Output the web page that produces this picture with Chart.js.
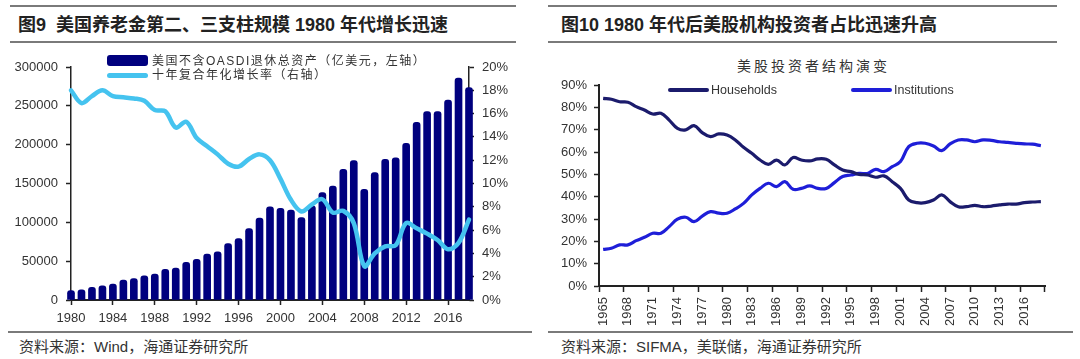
<!DOCTYPE html>
<html><head><meta charset="utf-8">
<script src="https://cdn.jsdelivr.net/npm/chart.js@4.4.1/dist/chart.umd.min.js"></script>
<style>
html,body{margin:0;padding:0;background:#fff;width:1080px;height:359px;overflow:hidden;position:relative;font-family:"Noto Sans CJK SC",sans-serif;}
.hl{position:absolute;background:#7a7a7a;}
.title{position:absolute;font-weight:bold;font-size:18px;color:#222;line-height:22px;white-space:pre;font-family:"Liberation Sans","Noto Sans CJK SC",sans-serif;}
.src{position:absolute;font-size:15px;color:#333;line-height:18px;white-space:pre;font-family:"Liberation Sans","Noto Sans CJK SC",sans-serif;}
.sub{position:absolute;font-size:14px;color:#333;line-height:16px;white-space:pre;letter-spacing:3px;}
canvas{position:absolute;}
.lg{position:absolute;font-size:12px;color:#333;line-height:14px;white-space:pre;letter-spacing:1.5px;font-family:"Liberation Sans","Noto Sans CJK SC",sans-serif;}
.lg2{position:absolute;font-size:12.5px;color:#333;line-height:14px;white-space:pre;font-family:"Liberation Sans",Arial,sans-serif;}
.sym{position:absolute;}
</style></head>
<body>
<div class="hl" style="left:10px;top:5px;width:506px;height:2px"></div>
<div class="hl" style="left:10px;top:41px;width:506px;height:1.5px"></div>
<div class="hl" style="left:8px;top:331px;width:524px;height:1.5px"></div>
<div class="title" style="left:18px;top:14px">图9  美国养老金第二、三支柱规模 1980 年代增长迅速</div>
<div class="src" style="left:19px;top:338px">资料来源：Wind，海通证券研究所</div>

<div class="hl" style="left:548px;top:5px;width:509px;height:2px"></div>
<div class="hl" style="left:548px;top:41px;width:509px;height:1.5px"></div>
<div class="hl" style="left:548px;top:331px;width:525px;height:1.5px"></div>
<div class="title" style="left:561px;top:14px">图10 1980 年代后美股机构投资者占比迅速升高</div>
<div class="src" style="left:561px;top:338px">资料来源：SIFMA，美联储，海通证券研究所</div>
<div class="sub" style="left:737px;top:57px">美股投资者结构演变</div>

<canvas id="c1" width="540" height="300" style="left:0;top:40px"></canvas>
<canvas id="c2" width="540" height="300" style="left:540px;top:40px"></canvas>

<div class="sym" style="left:107px;top:55px;width:41px;height:11px;background:#00007e;border-radius:3px"></div>
<div class="lg" style="left:152px;top:54px">美国不含OASDI退休总资产（亿美元，左轴）</div>
<div class="sym" style="left:107px;top:73px;width:41px;height:5px;background:#45c3ef;border-radius:3px"></div>
<div class="lg" style="left:152px;top:68px">十年复合年化增长率（右轴）</div>

<div class="sym" style="left:668px;top:88px;width:41px;height:4px;background:#1b1b6c;border-radius:2px"></div>
<div class="lg2" style="left:711px;top:83px">Households</div>
<div class="sym" style="left:851px;top:88px;width:41px;height:4px;background:#1e1ed8;border-radius:2px"></div>
<div class="lg2" style="left:894px;top:83px">Institutions</div>

<script>
const years1 = ['1980','1981','1982','1983','1984','1985','1986','1987','1988','1989','1990','1991','1992','1993','1994','1995','1996','1997','1998','1999','2000','2001','2002','2003','2004','2005','2006','2007','2008','2009','2010','2011','2012','2013','2014','2015','2016','2017','2018'];
const assets = [12000,13000,16300,18400,20600,25700,27500,31000,33500,39500,41200,48500,52400,59000,62000,72500,79200,92000,105500,120100,118000,115900,106000,121400,138200,146800,168300,179400,142500,163900,181100,183000,201700,228800,242500,242500,257500,285800,273400];
const growth = [18.0,16.9,17.5,18.0,17.5,17.4,17.3,17.1,16.3,16.2,14.8,15.3,13.9,13.2,12.5,11.7,11.45,12.1,12.5,12.0,10.4,8.6,7.6,8.2,8.65,7.5,7.65,6.6,2.9,4.0,4.6,4.7,6.6,6.15,5.7,5.15,4.35,4.9,6.9];
const leftTicks = [0,50000,100000,150000,200000,250000,300000];
const rightTicks = [0,2,4,6,8,10,12,14,16,18,20];

const years2 = ['1965','1966','1967','1968','1969','1970','1971','1972','1973','1974','1975','1976','1977','1978','1979','1980','1981','1982','1983','1984','1985','1986','1987','1988','1989','1990','1991','1992','1993','1994','1995','1996','1997','1998','1999','2000','2001','2002','2003','2004','2005','2006','2007','2008','2009','2010','2011','2012','2013','2014','2015','2016','2017','2018'];
const households = [84.0,83.6,82.5,82.3,80.3,78.8,77.0,77.3,74.3,70.6,69.9,71.8,68.7,66.9,68.1,67.6,65.4,62.1,59.4,56.4,54.5,56.4,54.2,57.5,56.4,56.0,56.9,56.7,54.2,51.9,51.2,50.0,49.7,48.7,49.3,46.7,43.7,38.5,37.3,37.3,38.5,40.8,37.8,35.5,35.5,36.1,35.5,35.8,36.3,36.7,36.7,37.3,37.6,37.8];
const institutions = [16.4,16.9,18.4,18.4,20.3,21.8,23.6,23.6,26.6,29.9,30.8,28.8,31.3,33.3,32.6,32.6,34.5,37.0,40.8,43.7,46.0,44.5,46.7,43.3,43.7,44.8,43.7,43.7,46.3,49.0,49.7,50.4,50.4,52.2,51.2,53.4,55.7,62.4,63.9,63.9,62.7,60.6,63.6,65.4,65.4,64.6,65.4,65.2,64.6,64.3,63.9,63.6,63.5,62.8];
const pctTicks = [0,10,20,30,40,50,60,70,80,90];

const tickFont = {family:'"Liberation Sans", Arial, sans-serif', size:13};
const tickColor = '#333';
const axisColor = '#222';

new Chart(document.getElementById('c1'), {
  data: {
    labels: years1,
    datasets: [
      {type:'line', data: growth, yAxisID:'y1', borderColor:'#45c3ef', borderWidth:4.5, pointRadius:0,
       tension:0.35, order:0, clip:false, borderCapStyle:'round', borderJoinStyle:'round'},
      {type:'bar', data: assets, yAxisID:'y', backgroundColor:'#00007e', barThickness:7,
       borderRadius:{topLeft:3,topRight:3,bottomLeft:0,bottomRight:0}, borderSkipped:'start', order:1, clip:false}
    ]
  },
  options: {
    responsive:false, animation:false,
    layout:{padding:{top:27,left:0,right:0,bottom:0}},
    plugins:{legend:{display:false}, tooltip:{enabled:false}},
    scales:{
      x:{type:'category', offset:false,
         grid:{offset:false, drawOnChartArea:false, tickLength:5,
               tickColor: c => (c.type==='tick' && c.index % 4 !== 0) ? 'rgba(0,0,0,0)' : axisColor, tickWidth:1.5},
         border:{display:true, color:axisColor, width:2},
         ticks:{autoSkip:false, maxRotation:0, minRotation:0, padding:6, color:tickColor, font:tickFont,
                callback:(v,i) => i % 4 === 0 ? years1[i] : ''},
         afterFit: s => { s.height = 40; }},
      y:{type:'linear', position:'left', min:0, max:300000,
         afterBuildTicks: s => { s.ticks = leftTicks.map(v => ({value:v})); },
         grid:{drawOnChartArea:false, tickLength:5, tickColor:axisColor, tickWidth:1.5},
         border:{display:true, color:axisColor, width:1.5},
         ticks:{padding:8, color:tickColor, font:tickFont, callback: v => String(v)},
         afterFit: s => { s.width = 71; }},
      y1:{type:'linear', position:'right', min:0, max:20,
         afterBuildTicks: s => { s.ticks = rightTicks.map(v => ({value:v})); },
         grid:{drawOnChartArea:false, tickLength:5, tickColor:axisColor, tickWidth:1.5},
         border:{display:true, color:axisColor, width:1.5},
         ticks:{padding:8, color:tickColor, font:tickFont, callback: v => v + '%'},
         afterFit: s => { s.width = 71; }}
    }
  }
});

new Chart(document.getElementById('c2'), {
  type:'line',
  data: {
    labels: years2,
    datasets: [
      {label:'Households', data: households, borderColor:'#1b1b6c', borderWidth:3.2, pointRadius:0, tension:0.4, clip:false},
      {label:'Institutions', data: institutions, borderColor:'#1e1ed8', borderWidth:3.2, pointRadius:0, tension:0.4, clip:false}
    ]
  },
  options: {
    responsive:false, animation:false,
    layout:{padding:{top:45,left:0,right:35,bottom:0}},
    plugins:{legend:{display:false}, tooltip:{enabled:false}},
    scales:{
      x:{type:'category', offset:true,
         grid:{offset:true, drawOnChartArea:false, tickLength:6,
               tickColor: c => (c.type==='tick' && c.index % 3 !== 0) ? 'rgba(0,0,0,0)' : axisColor, tickWidth:1.5},
         border:{display:true, color:axisColor, width:2},
         ticks:{autoSkip:false, maxRotation:90, minRotation:90, padding:5, color:tickColor, font:tickFont,
                callback:(v,i) => i % 3 === 0 ? years2[i] : ''},
         afterFit: s => { s.height = 54; }},
      y:{type:'linear', min:0, max:90,
         afterBuildTicks: s => { s.ticks = pctTicks.map(v => ({value:v})); },
         grid:{drawOnChartArea:false, tickLength:5, tickColor:axisColor, tickWidth:1.5},
         border:{display:true, color:axisColor, width:2},
         ticks:{padding:7, color:tickColor, font:tickFont, callback: v => v + '%'},
         afterFit: s => { s.width = 59; }}
    }
  }
});
</script>
</body></html>
